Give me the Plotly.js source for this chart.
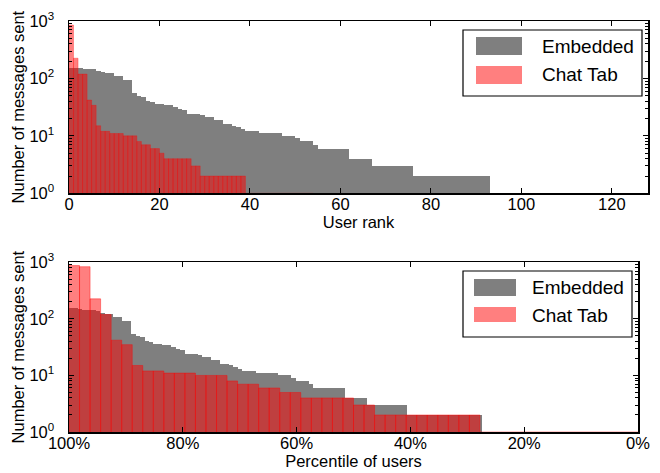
<!DOCTYPE html>
<html><head><meta charset="utf-8">
<script src="https://cdn.plot.ly/plotly-3.0.1.min.js"></script>
<style>html,body{margin:0;padding:0;background:#fff}#chart{width:660px;height:473px}</style>
</head><body><div id="chart"></div><script>
// Messages sent per user, users sorted by rank (most active first)
const embeddedCounts = [155,155,151,145,145,145,137,128,122,122,109,109,93,93,55,49,47,41,39,36,
  36,34,34,32,29,28,24,24,24,23,21,21,19,19,16,16,15,14,13,12,
  12,12,11,11,11,11,11,10,10,10,9,8,8,8,7,6,6,6,6,6,
  6,6,4,4,4,4,4,3,3,3,3,3,3,3,3,3,2,2,2,2,
  2,2,2,2,2,2,2,2,2,2,2,2,2,1,1,1,1,1,1,1,
  1,1,1,1,1,1,1,1,1,1,1,1,1,1,1,1,1,1,1,1,
  1,1,1,1,1,1,1,1];
const chatCountsByRank = [850,225,119,119,42,34,15,12,12,11,11,11,10,10,10,8,7,7,6,6,
  5,4,4,4,4,4,4,3,3,2,2,2,2,2,2,2,2,2,2,1,
  1,1,1,1,1,1,1,1,1,1,1,1,1,1];
const chatCountsByPercentile = [875,836,226,119,42,35,15,12,12,11,11,11,10,10,10,8,7,7,6,6,
  5,5,4,4,4,4,4,3,3,2,2,2,2,2,2,2,2,2,2,1,
  1,1,1,1,1,1,1,1,1,1,1,1,1,1];
const seriesNames = ['Embedded', 'Chat Tab'];
const rankTicks = [0, 20, 40, 60, 80, 100, 120];
const pctTicks = [100, 80, 60, 40, 20, 0];
const pctTickText = ['100%', '80%', '60%', '40%', '20%', '0%'];
const yTicks = [1, 10, 100, 1000];
const yTickText = ['10<sup>0</sup>', '10<sup>1</sup>', '10<sup>2</sup>', '10<sup>3</sup>'];

const GRAY = 'rgba(0,0,0,0.5)';
const RED = 'rgba(255,0,0,0.5)';
const FONT = 'Liberation Sans, Arial, sans-serif';

function rankX(arr) { return arr.map((_, i) => i + 0.5); }
function pctX(arr) { const n = arr.length; return arr.map((_, i) => 100 - 100 * (i + 0.5) / n); }

const traces = [
  {type:'bar', x: rankX(embeddedCounts), y: embeddedCounts, width: 1, xaxis:'x', yaxis:'y',
   name: seriesNames[0], marker:{color: GRAY, line:{width:0}}},
  {type:'bar', x: rankX(chatCountsByRank), y: chatCountsByRank, width: 1, xaxis:'x', yaxis:'y',
   name: seriesNames[1], marker:{color: RED, line:{color: RED, width:0.6}}},
  {type:'bar', x: pctX(embeddedCounts), y: embeddedCounts, width: 100/embeddedCounts.length, xaxis:'x2', yaxis:'y2',
   name: seriesNames[0], marker:{color: GRAY, line:{width:0}}},
  {type:'bar', x: pctX(chatCountsByPercentile), y: chatCountsByPercentile, width: 100/chatCountsByPercentile.length, xaxis:'x2', yaxis:'y2',
   name: seriesNames[1], marker:{color: RED, line:{color: RED, width:0.8}}}
];

const W = 660, H = 473, L = 69, R = 12, T = 21, B = 41;
const pw = W - L - R, ph = H - T - B;
const px = v => (v - L) / pw;
const py = v => (H - B - v) / ph;

const axisCommon = {
  showline: true, linecolor: 'black', linewidth: 1.5, mirror: 'ticks',
  ticks: 'inside', ticklen: 5, tickwidth: 1, tickcolor: 'black',
  showgrid: false, zeroline: false,
  tickfont: {family: FONT, size: 16.5, color: 'black'}
};
const yCommon = Object.assign({}, axisCommon, {
  type: 'log', range: [0, 3], tickmode: 'array', tickvals: yTicks, ticktext: yTickText,
  ticklabelstandoff: 10,
  minor: {ticks: 'inside', ticklen: 3, tickcolor: 'black', tickwidth: 1,
          tickvals: [2,3,4,5,6,7,8,9,20,30,40,50,60,70,80,90,200,300,400,500,600,700,800,900], showgrid: false},
  title: {text: 'Number of messages sent', font: {family: FONT, size: 16.5, color: 'black'}, standoff: 0}
});

function legendShapes(x0, x1, y0, y1, patches) {
  const s = [{type:'rect', xref:'paper', yref:'paper', x0: px(x0), x1: px(x1), y0: py(y1), y1: py(y0),
    line:{color:'black', width:1.2}, fillcolor:'white', layer:'above'}];
  patches.forEach(p => s.push({type:'rect', xref:'paper', yref:'paper', x0: px(p.x0), x1: px(p.x1),
    y0: py(p.y1), y1: py(p.y0), line:{width:0}, fillcolor: p.color, layer:'above'}));
  return s;
}
const shapes = [].concat(
  legendShapes(463, 642, 30, 96, [{x0:476, x1:522, y0:37, y1:55, color:GRAY}, {x0:476, x1:522, y0:66, y1:84, color:RED}]),
  legendShapes(463, 632, 271, 337, [{x0:474, x1:516, y0:279, y1:296, color:GRAY}, {x0:474, x1:516, y0:307, y1:322, color:RED}])
);
const legFont = {family: FONT, size: 19, color: 'black'};
const annotations = [
  {text: seriesNames[0], x: px(540), y: py(46)},
  {text: seriesNames[1], x: px(540), y: py(75)},
  {text: seriesNames[0], x: px(530), y: py(287)},
  {text: seriesNames[1], x: px(530), y: py(315)}
].map(a => Object.assign(a, {xref:'paper', yref:'paper', xanchor:'left', yanchor:'middle', showarrow:false, font: legFont}));

const layout = {
  width: W, height: H, margin: {l: L, r: R, t: T, b: B},
  paper_bgcolor: 'white', plot_bgcolor: 'white',
  showlegend: false, barmode: 'overlay', bargap: 0,
  xaxis: Object.assign({}, axisCommon, {domain: [0, 1], anchor: 'y', range: [0, 128],
    tickmode: 'array', tickvals: rankTicks, ticklabelstandoff: -5,
    title: {text: 'User rank', font: {family: FONT, size: 16.5, color: 'black'}, standoff: 4}}),
  yaxis: Object.assign({}, yCommon, {domain: [py(193.3), 1], anchor: 'x'}),
  xaxis2: Object.assign({}, axisCommon, {domain: [0, px(638)], anchor: 'y2', range: [100, 0],
    tickmode: 'array', tickvals: pctTicks, ticktext: pctTickText, ticklabelstandoff: -4,
    title: {text: 'Percentile of users', font: {family: FONT, size: 16.5, color: 'black'}, standoff: 3}}),
  yaxis2: Object.assign({}, yCommon, {domain: [0, py(262.3)], anchor: 'x2'}),
  shapes: shapes, annotations: annotations
};
Plotly.newPlot('chart', traces, layout, {displayModeBar: false, staticPlot: true});
</script></body></html>
